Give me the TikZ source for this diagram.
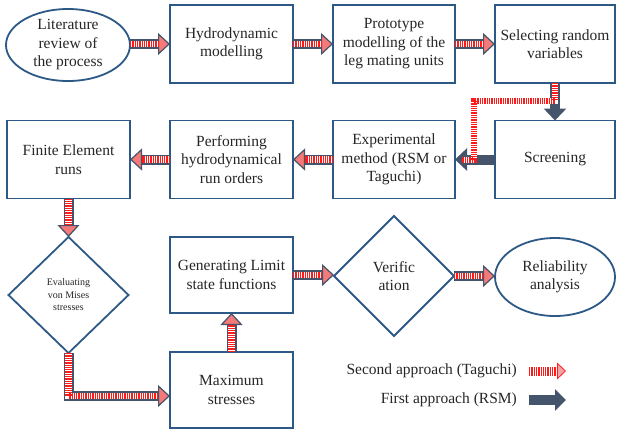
\documentclass[tikz,border=0pt]{standalone}
\usepackage{fontspec}
\setmainfont{Liberation Serif}
\usetikzlibrary{arrows.meta,shapes.geometric,calc}
\definecolor{boxblue}{HTML}{2D5986}
\definecolor{darkarrow}{HTML}{44546A}
\definecolor{stripered}{HTML}{FF1A1A}
\definecolor{headred}{HTML}{F47A7A}
\definecolor{txt}{HTML}{262626}
\newcommand{\striparrow}[1]{%
  \draw[stripeout] #1;
  \draw[stripebg] #1;
  \draw[stripefg] #1;}
\begin{document}
\begin{tikzpicture}[x=1pt,y=-1pt,
  base/.style={draw=boxblue, line width=1.8pt, align=center, text=txt,
    font=\fontsize{15.5}{18.5}\selectfont, inner sep=2pt, outer sep=0pt},
  box/.style={base, rectangle, minimum width=123pt, minimum height=78pt},
  oval/.style={base, ellipse, inner xsep=-4pt, inner ysep=-6pt},
  dia/.style={base, diamond, inner sep=0pt, minimum width=120pt, minimum height=118pt},
  stripeout/.style={draw=darkarrow, line width=10pt,
    -{Triangle[length=12pt,width=22pt,line width=1.2pt,fill=headred,color=darkarrow]}},
  stripebg/.style={draw=white, line width=6.5pt, shorten >=12pt},
  stripefg/.style={draw=stripered, line width=6.5pt, dash pattern=on 1.3pt off 1pt, shorten >=12pt},
  rsm/.style={draw=darkarrow, line width=10pt, -{Triangle[length=12pt,width=22pt]}},
  tagbg/.style={draw=white, line width=6pt},
  tagfg/.style={draw=stripered, line width=6pt, dash pattern=on 1.3pt off 1pt},
  legred/.style={draw=stripered, line width=9pt, dash pattern=on 1.3pt off 1pt,
    -{Triangle[length=9pt,width=17pt,line width=0.8pt,fill=headred!70!white,color=stripered]}},
  legdark/.style={draw=darkarrow, line width=10pt, -{Triangle[length=11pt,width=21pt]}},
  legtext/.style={text=txt, font=\fontsize{15.5}{18.5}\selectfont, inner sep=0pt}
]
\useasboundingbox (0,0) rectangle (617,432);
\fill[white] (0,0) rectangle (617,432);

% row 1
\node[oval, minimum width=124pt, minimum height=72pt] (lit) at (68,45) {Literature\\review of\\the process};
\node[box] (hyd) at (231.5,44) {Hydrodynamic\\modelling};
\node[box, minimum width=122pt] (pro) at (394,44) {Prototype\\modelling of the\\leg mating units};
\node[box, minimum width=120pt] (sel) at (555,44) {Selecting random\\variables};

% row 2
\node[box] (fin) at (68.5,159.5) {Finite Element\\runs};
\node[box] (perf) at (231.5,159.5) {Performing\\hydrodynamical\\run orders};
\node[box, minimum width=122pt] (exp) at (394,159.5) {Experimental\\method (RSM or\\Taguchi)};
\node[box, minimum width=120pt] (scr) at (555,159.5) {Screening};

% row 3
\node[dia, minimum height=116pt, font=\fontsize{10}{12.5}\selectfont] (ev) at (68.5,295) {Evaluating\\von Mises\\stresses};
\node[box, minimum height=76pt] (gen) at (231.5,275) {Generating Limit\\state functions};
\node[dia, minimum height=120pt] (ver) at (394,276) {Verific\\ation};
\node[oval, minimum width=120pt, minimum height=78pt] (rel) at (555,277) {Reliability\\analysis};
\node[box, minimum height=76pt] (max) at (231.5,390) {Maximum\\stresses};

% connectors
\striparrow{(lit.east|-hyd.west) -- (hyd.west)}
\striparrow{(hyd.east) -- (pro.west)}
\striparrow{(pro.east) -- (sel.west)}
\draw[rsm] (sel.south) -- (scr.north);
\draw[rsm] (scr.west) -- (exp.east);
\draw[tagbg] (sel.south) -- ++(0,18) -| ($(exp.east)+(19,0)$) -- ($(exp.east)+(7,0)$);
\draw[tagfg] (sel.south) -- ++(0,18) -| ($(exp.east)+(19,0)$) -- ($(exp.east)+(7,0)$);
\striparrow{(exp.west) -- (perf.east)}
\striparrow{(perf.west) -- (fin.east)}
\striparrow{(fin.south) -- (ev.north)}
\striparrow{(ev.south) |- ([yshift=-6pt]max.west)}
\striparrow{(max.north) -- (gen.south)}
\striparrow{(gen.east) -- (gen.east-|ver.west)}
\striparrow{(ver.east) -- (ver.east-|rel.west)}

% legend
\node[legtext, anchor=east] (l1) at (517,371) {Second approach (Taguchi)};
\node[legtext, anchor=east] (l2) at (517,400) {First approach (RSM)};
\coordinate (a1s) at (529,371);
\coordinate (a1e) at (566,371);
\coordinate (a2s) at (529,400);
\coordinate (a2e) at (566,400);
\draw[legred] (a1s) -- (a1e);
\draw[legdark] (a2s) -- (a2e);
\end{tikzpicture}
\end{document}
